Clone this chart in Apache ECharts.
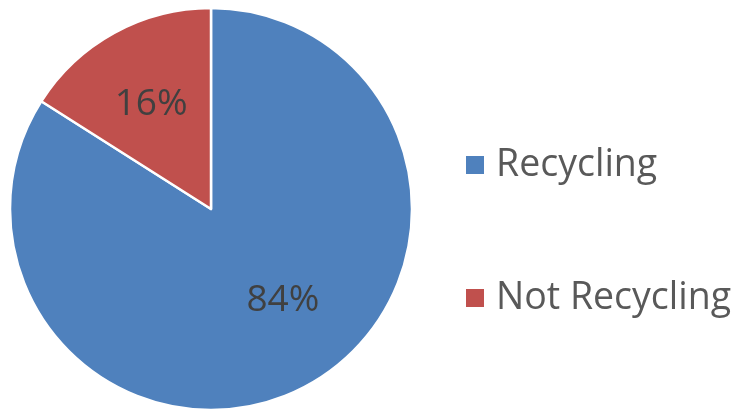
<!DOCTYPE html>
<html>
<head>
<meta charset="utf-8">
<script src="https://cdn.jsdelivr.net/npm/echarts@6/dist/echarts.min.js"></script>
<style>
html,body{margin:0;padding:0;background:#fff;}
#chart{width:738px;height:409px;}
</style>
</head>
<body>
<div id="chart"></div>
<script>
const categories = ['Recycling', 'Not Recycling'];
const values = [84, 16];
const colors = ['#4F81BD', '#C0504D'];
const labelOffsets = [[22, 1], [-10, -14]];

const chart = echarts.init(document.getElementById('chart'), null, {renderer: 'canvas'});
chart.setOption({
  animation: false,
  backgroundColor: '#ffffff',
  legend: {
    orient: 'vertical',
    left: 464,
    top: 145,
    padding: 0,
    itemWidth: 20,
    itemHeight: 20,
    itemGap: 93,
    icon: 'rect',
    data: categories,
    textStyle: {
      fontFamily: 'Open Sans',
      fontSize: 37.5,
      color: '#595959',
      lineHeight: 40,
      padding: [0, 0, 0, 6]
    }
  },
  series: [{
    type: 'pie',
    center: [211, 209],
    radius: [0, 201],
    startAngle: 90,
    clockwise: true,
    label: {
      show: true,
      position: 'inside',
      formatter: '{d}%',
      fontFamily: 'Open Sans',
      fontSize: 37,
      color: '#404040'
    },
    labelLine: {show: false},
    itemStyle: {borderColor: '#ffffff', borderWidth: 2.5},
    emphasis: {disabled: true},
    data: categories.map((c, i) => ({
      name: c,
      value: values[i],
      itemStyle: {color: colors[i]},
      label: {offset: labelOffsets[i]}
    }))
  }]
});
</script>
</body>
</html>
